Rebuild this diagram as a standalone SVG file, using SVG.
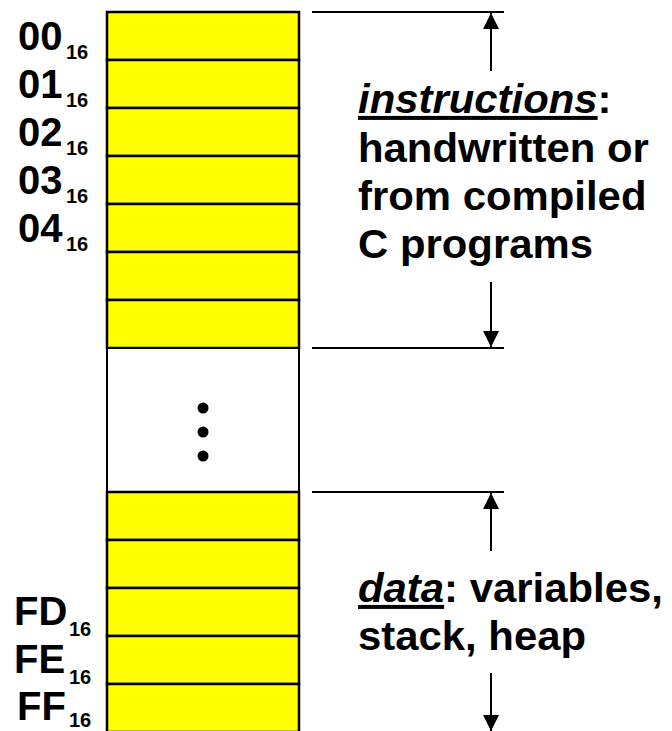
<svg xmlns="http://www.w3.org/2000/svg" width="672" height="731" viewBox="0 0 672 731">
<defs>
<style>
.cell{fill:#ffff00;stroke:#000;stroke-width:2.5}
.gap{fill:#fff;stroke:#000;stroke-width:2}
.lbl{font-family:"Liberation Sans",Arial,sans-serif;font-weight:bold;fill:#000}
.big{font-size:40px}
.sub{font-size:20px}
.txt{font-family:"Liberation Sans",Arial,sans-serif;font-weight:bold;font-size:40px;fill:#000}
.line{stroke:#000;stroke-width:2;fill:none}
</style>
<marker id="ah" viewBox="0 0 16 16" refX="16" refY="8" markerWidth="16" markerHeight="16" markerUnits="userSpaceOnUse" orient="auto">
<path d="M0,0 L16,8 L0,16 Z" fill="#000"/>
</marker>
</defs>
<rect width="672" height="731" fill="#fff"/>
<g id="memory">
<rect class="cell" x="107" y="12" width="192" height="48"/>
<rect class="cell" x="107" y="60" width="192" height="48"/>
<rect class="cell" x="107" y="108" width="192" height="48"/>
<rect class="cell" x="107" y="156" width="192" height="48"/>
<rect class="cell" x="107" y="204" width="192" height="48"/>
<rect class="cell" x="107" y="252" width="192" height="48"/>
<rect class="cell" x="107" y="300" width="192" height="48"/>
<rect class="gap" x="107" y="348" width="192" height="144"/>
<rect class="cell" x="107" y="492" width="192" height="48"/>
<rect class="cell" x="107" y="540" width="192" height="48"/>
<rect class="cell" x="107" y="588" width="192" height="48"/>
<rect class="cell" x="107" y="636" width="192" height="48"/>
<rect class="cell" x="107" y="684" width="192" height="48"/>
<circle cx="203" cy="408" r="5.5" fill="#000"/>
<circle cx="203" cy="432" r="5.5" fill="#000"/>
<circle cx="203" cy="456" r="5.5" fill="#000"/>
</g>
<g id="addr-labels">
<text class="lbl big" x="18" y="50">00</text><text class="lbl sub" x="66" y="59">16</text>
<text class="lbl big" x="18" y="98">01</text><text class="lbl sub" x="66" y="107">16</text>
<text class="lbl big" x="18" y="146">02</text><text class="lbl sub" x="66" y="155">16</text>
<text class="lbl big" x="18" y="194">03</text><text class="lbl sub" x="66" y="203">16</text>
<text class="lbl big" x="18" y="242">04</text><text class="lbl sub" x="66" y="251">16</text>
<text class="lbl big" x="14" y="625">FD</text><text class="lbl sub" x="69" y="636">16</text>
<text class="lbl big" x="14" y="673">FE</text><text class="lbl sub" x="69" y="684">16</text>
<text class="lbl big" x="17" y="720">FF</text><text class="lbl sub" x="69" y="727">16</text>
</g>
<g id="connectors">
<line class="line" x1="312" y1="12" x2="504" y2="12"/>
<line class="line" x1="312" y1="348" x2="504" y2="348"/>
<line class="line" x1="312" y1="492" x2="504" y2="492"/>
<line class="line" x1="491" y1="71" x2="491" y2="13" marker-end="url(#ah)"/>
<line class="line" x1="491" y1="282" x2="491" y2="347" marker-end="url(#ah)"/>
<line class="line" x1="491" y1="551" x2="491" y2="493" marker-end="url(#ah)"/>
<line class="line" x1="491" y1="673" x2="491" y2="731" marker-end="url(#ah)"/>
</g>
<g id="instructions-label" transform="matrix(1.047 0 0 1 -16.8 0)">
<text class="txt" x="358" y="113"><tspan font-style="italic" text-decoration="underline">instructions</tspan>:</text>
<text class="txt" x="358" y="162">handwritten or</text>
<text class="txt" x="358" y="210">from compiled</text>
<text class="txt" x="358" y="258">C programs</text>
</g>
<g id="data-label" transform="matrix(1.047 0 0 1 -16.8 0)">
<text class="txt" x="358" y="602"><tspan font-style="italic" text-decoration="underline">data</tspan>: variables,</text>
<text class="txt" x="358" y="650">stack, heap</text>
</g>
</svg>
